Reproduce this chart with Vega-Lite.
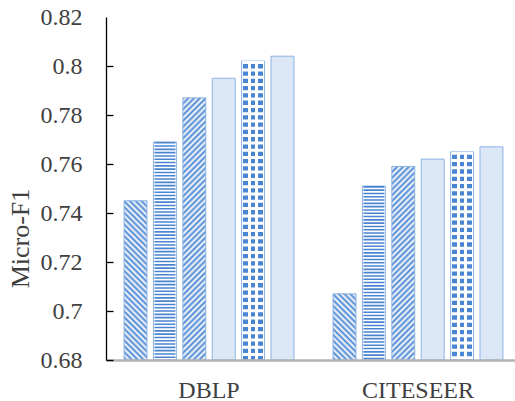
{
"$schema": "https://vega.github.io/schema/vega-lite/v6.json",
"width": 409, "height": 343,
"autosize": "none",
"padding": {"left": 106, "top": 17, "right": 0, "bottom": 41},
"background": "white",
"config": {"view": {"stroke": null}},
"data": {"values": [
{"g": "DBLP", "m": "a", "v": 0.745},
{"g": "DBLP", "m": "b", "v": 0.769},
{"g": "DBLP", "m": "c", "v": 0.787},
{"g": "DBLP", "m": "d", "v": 0.795},
{"g": "DBLP", "m": "e", "v": 0.802},
{"g": "DBLP", "m": "f", "v": 0.804},
{"g": "CITESEER", "m": "a", "v": 0.707},
{"g": "CITESEER", "m": "b", "v": 0.751},
{"g": "CITESEER", "m": "c", "v": 0.759},
{"g": "CITESEER", "m": "d", "v": 0.762},
{"g": "CITESEER", "m": "e", "v": 0.765},
{"g": "CITESEER", "m": "f", "v": 0.767}
]},
"encoding": {
"x": {"field": "g", "type": "nominal", "sort": ["DBLP", "CITESEER"],
 "scale": {"domain": ["DBLP", "CITESEER"], "range": [0, 415], "paddingInner": 0.156, "paddingOuter": 0.071},
 "axis": {"title": null, "ticks": false, "domainColor": "#b3b3b3", "domainWidth": 2.5, "labelFont": "Times New Roman, Liberation Serif, Tinos, serif", "labelFontSize": 24, "labelColor": "#404040", "labelPadding": 18, "labelAngle": 0, "zindex": 1}},
"xOffset": {"field": "m", "type": "nominal", "scale": {"domain": ["a", "b", "c", "d", "e", "f"], "paddingInner": 0.22, "paddingOuter": 0.11}},
"y": {"field": "v", "type": "quantitative",
 "scale": {"domain": [0.68, 0.82], "nice": false, "zero": false},
 "axis": {"title": "Micro-F1", "values": [0.68, 0.7, 0.72, 0.74, 0.76, 0.78, 0.8, 0.82], "format": ".2~f", "grid": false,
  "domainColor": "#000000", "domainWidth": 1.3,
  "tickColor": {"condition": {"test": "datum.value > 0.819", "value": "transparent"}, "value": "#000000"},
  "tickSize": -7, "tickWidth": 1.3, "labelPadding": 31,
  "labelFont": "Times New Roman, Liberation Serif, Tinos, serif", "labelFontSize": 24, "labelColor": "#404040",
  "titleFont": "Times New Roman, Liberation Serif, Tinos, serif", "titleFontSize": 26, "titleFontWeight": "normal", "titleColor": "#404040",
  "titleX": -86, "titleY": 221, "titleAngle": -90, "titleAlign": "center", "titleBaseline": "middle", "zindex": 1}},
"y2": {"datum": 0.68}
},
"layer": [
{"mark": {"type": "bar", "stroke": "#8cb3e3", "strokeWidth": 1},
 "encoding": {"fill": {"condition": [
  {"test": "datum.g == 'DBLP' && datum.m == 'a'", "value": {"gradient": "linear", "x1": 1, "y1": 0, "x2": 0.7431, "y2": 1.7841, "stops": [
{"offset":0,"color":"#4a85d1"},{"offset":0.01,"color":"#fff"},{"offset":0.02,"color":"#4a85d1"},{"offset":0.03,"color":"#fff"},{"offset":0.04,"color":"#4a85d1"},{"offset":0.05,"color":"#fff"},{"offset":0.06,"color":"#4a85d1"},{"offset":0.07,"color":"#fff"},{"offset":0.08,"color":"#4a85d1"},{"offset":0.09,"color":"#fff"},
{"offset":0.1,"color":"#4a85d1"},{"offset":0.11,"color":"#fff"},{"offset":0.12,"color":"#4a85d1"},{"offset":0.13,"color":"#fff"},{"offset":0.14,"color":"#4a85d1"},{"offset":0.15,"color":"#fff"},{"offset":0.16,"color":"#4a85d1"},{"offset":0.17,"color":"#fff"},{"offset":0.18,"color":"#4a85d1"},{"offset":0.19,"color":"#fff"},
{"offset":0.2,"color":"#4a85d1"},{"offset":0.21,"color":"#fff"},{"offset":0.22,"color":"#4a85d1"},{"offset":0.23,"color":"#fff"},{"offset":0.24,"color":"#4a85d1"},{"offset":0.25,"color":"#fff"},{"offset":0.26,"color":"#4a85d1"},{"offset":0.27,"color":"#fff"},{"offset":0.28,"color":"#4a85d1"},{"offset":0.29,"color":"#fff"},
{"offset":0.3,"color":"#4a85d1"},{"offset":0.31,"color":"#fff"},{"offset":0.32,"color":"#4a85d1"},{"offset":0.33,"color":"#fff"},{"offset":0.34,"color":"#4a85d1"},{"offset":0.35,"color":"#fff"},{"offset":0.36,"color":"#4a85d1"},{"offset":0.37,"color":"#fff"},{"offset":0.38,"color":"#4a85d1"},{"offset":0.39,"color":"#fff"},
{"offset":0.4,"color":"#4a85d1"},{"offset":0.41,"color":"#fff"},{"offset":0.42,"color":"#4a85d1"},{"offset":0.43,"color":"#fff"},{"offset":0.44,"color":"#4a85d1"},{"offset":0.45,"color":"#fff"},{"offset":0.46,"color":"#4a85d1"},{"offset":0.47,"color":"#fff"},{"offset":0.48,"color":"#4a85d1"},{"offset":0.49,"color":"#fff"},
{"offset":0.5,"color":"#4a85d1"},{"offset":0.51,"color":"#fff"},{"offset":0.52,"color":"#4a85d1"},{"offset":0.53,"color":"#fff"},{"offset":0.54,"color":"#4a85d1"},{"offset":0.55,"color":"#fff"},{"offset":0.56,"color":"#4a85d1"},{"offset":0.57,"color":"#fff"},{"offset":0.58,"color":"#4a85d1"},{"offset":0.59,"color":"#fff"},
{"offset":0.6,"color":"#4a85d1"},{"offset":0.61,"color":"#fff"},{"offset":0.62,"color":"#4a85d1"},{"offset":0.63,"color":"#fff"},{"offset":0.64,"color":"#4a85d1"}
  ]}},
  {"test": "datum.g == 'CITESEER' && datum.m == 'a'", "value": {"gradient": "linear", "x1": 1, "y1": 0, "x2": -0.3566, "y2": 3.9137, "stops": [
{"offset":0,"color":"#4a85d1"},{"offset":0.01,"color":"#fff"},{"offset":0.02,"color":"#4a85d1"},{"offset":0.03,"color":"#fff"},{"offset":0.04,"color":"#4a85d1"},{"offset":0.05,"color":"#fff"},{"offset":0.06,"color":"#4a85d1"},{"offset":0.07,"color":"#fff"},{"offset":0.08,"color":"#4a85d1"},{"offset":0.09,"color":"#fff"},
{"offset":0.1,"color":"#4a85d1"},{"offset":0.11,"color":"#fff"},{"offset":0.12,"color":"#4a85d1"},{"offset":0.13,"color":"#fff"},{"offset":0.14,"color":"#4a85d1"},{"offset":0.15,"color":"#fff"},{"offset":0.16,"color":"#4a85d1"},{"offset":0.17,"color":"#fff"},{"offset":0.18,"color":"#4a85d1"},{"offset":0.19,"color":"#fff"},
{"offset":0.2,"color":"#4a85d1"},{"offset":0.21,"color":"#fff"},{"offset":0.22,"color":"#4a85d1"},{"offset":0.23,"color":"#fff"},{"offset":0.24,"color":"#4a85d1"},{"offset":0.25,"color":"#fff"},{"offset":0.26,"color":"#4a85d1"},{"offset":0.27,"color":"#fff"},{"offset":0.28,"color":"#4a85d1"},{"offset":0.29,"color":"#fff"},
{"offset":0.3,"color":"#4a85d1"},{"offset":0.31,"color":"#fff"},{"offset":0.32,"color":"#4a85d1"}
  ]}},
  {"test": "datum.g == 'DBLP' && datum.m == 'c'", "value": {"gradient": "linear", "x1": 0, "y1": 0, "x2": 0.096, "y2": 1.0978, "stops": [
{"offset":0,"color":"#4a85d1"},{"offset":0.01,"color":"#fff"},{"offset":0.02,"color":"#4a85d1"},{"offset":0.03,"color":"#fff"},{"offset":0.04,"color":"#4a85d1"},{"offset":0.05,"color":"#fff"},{"offset":0.06,"color":"#4a85d1"},{"offset":0.07,"color":"#fff"},{"offset":0.08,"color":"#4a85d1"},{"offset":0.09,"color":"#fff"},
{"offset":0.1,"color":"#4a85d1"},{"offset":0.11,"color":"#fff"},{"offset":0.12,"color":"#4a85d1"},{"offset":0.13,"color":"#fff"},{"offset":0.14,"color":"#4a85d1"},{"offset":0.15,"color":"#fff"},{"offset":0.16,"color":"#4a85d1"},{"offset":0.17,"color":"#fff"},{"offset":0.18,"color":"#4a85d1"},{"offset":0.19,"color":"#fff"},
{"offset":0.2,"color":"#4a85d1"},{"offset":0.21,"color":"#fff"},{"offset":0.22,"color":"#4a85d1"},{"offset":0.23,"color":"#fff"},{"offset":0.24,"color":"#4a85d1"},{"offset":0.25,"color":"#fff"},{"offset":0.26,"color":"#4a85d1"},{"offset":0.27,"color":"#fff"},{"offset":0.28,"color":"#4a85d1"},{"offset":0.29,"color":"#fff"},
{"offset":0.3,"color":"#4a85d1"},{"offset":0.31,"color":"#fff"},{"offset":0.32,"color":"#4a85d1"},{"offset":0.33,"color":"#fff"},{"offset":0.34,"color":"#4a85d1"},{"offset":0.35,"color":"#fff"},{"offset":0.36,"color":"#4a85d1"},{"offset":0.37,"color":"#fff"},{"offset":0.38,"color":"#4a85d1"},{"offset":0.39,"color":"#fff"},
{"offset":0.4,"color":"#4a85d1"},{"offset":0.41,"color":"#fff"},{"offset":0.42,"color":"#4a85d1"},{"offset":0.43,"color":"#fff"},{"offset":0.44,"color":"#4a85d1"},{"offset":0.45,"color":"#fff"},{"offset":0.46,"color":"#4a85d1"},{"offset":0.47,"color":"#fff"},{"offset":0.48,"color":"#4a85d1"},{"offset":0.49,"color":"#fff"},
{"offset":0.5,"color":"#4a85d1"},{"offset":0.51,"color":"#fff"},{"offset":0.52,"color":"#4a85d1"},{"offset":0.53,"color":"#fff"},{"offset":0.54,"color":"#4a85d1"},{"offset":0.55,"color":"#fff"},{"offset":0.56,"color":"#4a85d1"},{"offset":0.57,"color":"#fff"},{"offset":0.58,"color":"#4a85d1"},{"offset":0.59,"color":"#fff"},
{"offset":0.6,"color":"#4a85d1"},{"offset":0.61,"color":"#fff"},{"offset":0.62,"color":"#4a85d1"},{"offset":0.63,"color":"#fff"},{"offset":0.64,"color":"#4a85d1"},{"offset":0.65,"color":"#fff"},{"offset":0.66,"color":"#4a85d1"},{"offset":0.67,"color":"#fff"},{"offset":0.68,"color":"#4a85d1"},{"offset":0.69,"color":"#fff"},
{"offset":0.7,"color":"#4a85d1"},{"offset":0.71,"color":"#fff"},{"offset":0.72,"color":"#4a85d1"},{"offset":0.73,"color":"#fff"},{"offset":0.74,"color":"#4a85d1"},{"offset":0.75,"color":"#fff"},{"offset":0.76,"color":"#4a85d1"},{"offset":0.77,"color":"#fff"},{"offset":0.78,"color":"#4a85d1"},{"offset":0.79,"color":"#fff"},
{"offset":0.8,"color":"#4a85d1"},{"offset":0.81,"color":"#fff"},{"offset":0.82,"color":"#4a85d1"},{"offset":0.83,"color":"#fff"},{"offset":0.84,"color":"#4a85d1"},{"offset":0.85,"color":"#fff"},{"offset":0.86,"color":"#4a85d1"},{"offset":0.87,"color":"#fff"},{"offset":0.88,"color":"#4a85d1"},{"offset":0.89,"color":"#fff"},
{"offset":0.9,"color":"#4a85d1"},{"offset":0.91,"color":"#fff"},{"offset":0.92,"color":"#4a85d1"},{"offset":0.93,"color":"#fff"},{"offset":0.94,"color":"#4a85d1"},{"offset":0.95,"color":"#fff"},{"offset":0.96,"color":"#4a85d1"},{"offset":0.97,"color":"#fff"},{"offset":0.98,"color":"#4a85d1"},{"offset":0.99,"color":"#fff"},
{"offset":1,"color":"#4a85d1"}
  ]}},
  {"test": "datum.g == 'CITESEER' && datum.m == 'c'", "value": {"gradient": "linear", "x1": 0, "y1": 0, "x2": 0.175, "y2": 1.4776, "stops": [
{"offset":0,"color":"#4a85d1"},{"offset":0.01,"color":"#fff"},{"offset":0.02,"color":"#4a85d1"},{"offset":0.03,"color":"#fff"},{"offset":0.04,"color":"#4a85d1"},{"offset":0.05,"color":"#fff"},{"offset":0.06,"color":"#4a85d1"},{"offset":0.07,"color":"#fff"},{"offset":0.08,"color":"#4a85d1"},{"offset":0.09,"color":"#fff"},
{"offset":0.1,"color":"#4a85d1"},{"offset":0.11,"color":"#fff"},{"offset":0.12,"color":"#4a85d1"},{"offset":0.13,"color":"#fff"},{"offset":0.14,"color":"#4a85d1"},{"offset":0.15,"color":"#fff"},{"offset":0.16,"color":"#4a85d1"},{"offset":0.17,"color":"#fff"},{"offset":0.18,"color":"#4a85d1"},{"offset":0.19,"color":"#fff"},
{"offset":0.2,"color":"#4a85d1"},{"offset":0.21,"color":"#fff"},{"offset":0.22,"color":"#4a85d1"},{"offset":0.23,"color":"#fff"},{"offset":0.24,"color":"#4a85d1"},{"offset":0.25,"color":"#fff"},{"offset":0.26,"color":"#4a85d1"},{"offset":0.27,"color":"#fff"},{"offset":0.28,"color":"#4a85d1"},{"offset":0.29,"color":"#fff"},
{"offset":0.3,"color":"#4a85d1"},{"offset":0.31,"color":"#fff"},{"offset":0.32,"color":"#4a85d1"},{"offset":0.33,"color":"#fff"},{"offset":0.34,"color":"#4a85d1"},{"offset":0.35,"color":"#fff"},{"offset":0.36,"color":"#4a85d1"},{"offset":0.37,"color":"#fff"},{"offset":0.38,"color":"#4a85d1"},{"offset":0.39,"color":"#fff"},
{"offset":0.4,"color":"#4a85d1"},{"offset":0.41,"color":"#fff"},{"offset":0.42,"color":"#4a85d1"},{"offset":0.43,"color":"#fff"},{"offset":0.44,"color":"#4a85d1"},{"offset":0.45,"color":"#fff"},{"offset":0.46,"color":"#4a85d1"},{"offset":0.47,"color":"#fff"},{"offset":0.48,"color":"#4a85d1"},{"offset":0.49,"color":"#fff"},
{"offset":0.5,"color":"#4a85d1"},{"offset":0.51,"color":"#fff"},{"offset":0.52,"color":"#4a85d1"},{"offset":0.53,"color":"#fff"},{"offset":0.54,"color":"#4a85d1"},{"offset":0.55,"color":"#fff"},{"offset":0.56,"color":"#4a85d1"},{"offset":0.57,"color":"#fff"},{"offset":0.58,"color":"#4a85d1"},{"offset":0.59,"color":"#fff"},
{"offset":0.6,"color":"#4a85d1"},{"offset":0.61,"color":"#fff"},{"offset":0.62,"color":"#4a85d1"},{"offset":0.63,"color":"#fff"},{"offset":0.64,"color":"#4a85d1"},{"offset":0.65,"color":"#fff"},{"offset":0.66,"color":"#4a85d1"},{"offset":0.67,"color":"#fff"},{"offset":0.68,"color":"#4a85d1"},{"offset":0.69,"color":"#fff"},
{"offset":0.7,"color":"#4a85d1"},{"offset":0.71,"color":"#fff"},{"offset":0.72,"color":"#4a85d1"},{"offset":0.73,"color":"#fff"},{"offset":0.74,"color":"#4a85d1"},{"offset":0.75,"color":"#fff"},{"offset":0.76,"color":"#4a85d1"}
  ]}},
  {"test": "datum.m == 'd'", "value": "#dde8f6"},
  {"test": "datum.m == 'e'", "value": {"gradient": "linear", "x1": 0, "y1": 0, "x2": 1, "y2": 0, "stops": [
{"offset":0,"color":"#fff"},{"offset":0.07,"color":"#fff"},{"offset":0.07,"color":"#4a85d1"},{"offset":0.27,"color":"#4a85d1"},{"offset":0.27,"color":"#fff"},{"offset":0.4,"color":"#fff"},{"offset":0.4,"color":"#4a85d1"},{"offset":0.6,"color":"#4a85d1"},{"offset":0.6,"color":"#fff"},{"offset":0.73,"color":"#fff"},{"offset":0.73,"color":"#4a85d1"},{"offset":0.93,"color":"#4a85d1"},{"offset":0.93,"color":"#fff"},{"offset":1,"color":"#fff"}
  ]}},
  {"test": "datum.m == 'f'", "value": "#dbe7f6"}
 ], "value": "#ffffff"}}},
{"transform": [{"filter": "datum.m == 'b'"}],
 "mark": {"type": "rule", "color": "#4a85d1", "strokeWidth": 21, "strokeDash": [1.6, 1.7]}},
{"transform": [{"filter": "datum.m == 'e'"}],
 "mark": {"type": "rule", "color": "#ffffff", "strokeWidth": 21, "strokeDash": [3, 4.3]}}
]
}
